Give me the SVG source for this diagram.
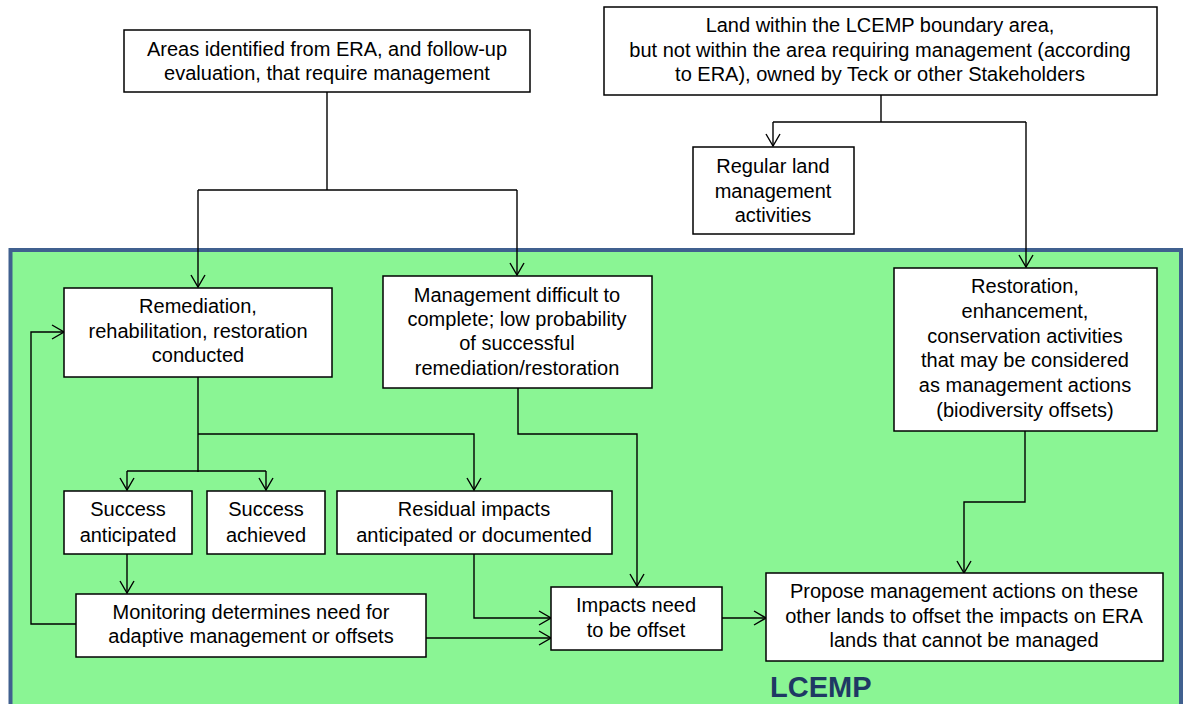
<svg xmlns="http://www.w3.org/2000/svg" width="1183" height="704" viewBox="0 0 1183 704">
<style>
.box{fill:#fff;stroke:#000;stroke-width:1.5}
.t{font-family:"Liberation Sans",Arial,sans-serif;font-size:20px;fill:#000;text-anchor:middle}
.c{fill:none;stroke:#000;stroke-width:1.4}
.lab{font-family:"Liberation Sans",Arial,sans-serif;font-size:29px;font-weight:bold;fill:#1f3864}
</style>
<defs>
<marker id="arr" viewBox="-13 -8 14 16" refX="0" refY="0" markerWidth="14" markerHeight="16" orient="auto" markerUnits="userSpaceOnUse">
<path d="M-12,-7 L0,0 L-12,7" fill="none" stroke="#000" stroke-width="1.4"/>
</marker>
</defs>
<rect width="1183" height="704" fill="#fff"/>
<g id="panel">
<rect x="10.5" y="250" width="1170.5" height="480" fill="#8af594" stroke="#40608f" stroke-width="4"/>
<text class="lab" x="770" y="697">LCEMP</text>
</g>
<g id="connectors">
<path class="c" d="M327,92 V190 M198,190 H517"/>
<path class="c" d="M198,190 V287" marker-end="url(#arr)"/>
<path class="c" d="M517,190 V275" marker-end="url(#arr)"/>
<path class="c" d="M881,95 V122 M773,122 H1026"/>
<path class="c" d="M773,122 V146" marker-end="url(#arr)"/>
<path class="c" d="M1026,122 V267" marker-end="url(#arr)"/>
<path class="c" d="M198,377 V472 M127,471 H266"/>
<path class="c" d="M198,434 H474 V490" marker-end="url(#arr)"/>
<path class="c" d="M127,471 V490" marker-end="url(#arr)"/>
<path class="c" d="M266,471 V490" marker-end="url(#arr)"/>
<path class="c" d="M127,554 V593" marker-end="url(#arr)"/>
<path class="c" d="M76,624 H31 V332 H64" marker-end="url(#arr)"/>
<path class="c" d="M474,554 V618 H551" marker-end="url(#arr)"/>
<path class="c" d="M426,638 H551" marker-end="url(#arr)"/>
<path class="c" d="M518,388 V434 H637 V586" marker-end="url(#arr)"/>
<path class="c" d="M722,618 H766" marker-end="url(#arr)"/>
<path class="c" d="M1025,431 V502 H964 V573" marker-end="url(#arr)"/>
</g>
<g id="areas">
<rect class="box" x="124" y="30" width="406" height="62"/>
<text class="t" x="327" y="56">Areas identified from ERA, and follow-up</text>
<text class="t" x="327" y="80">evaluation, that require management</text>
</g>
<g id="land">
<rect class="box" x="604" y="7" width="553" height="88"/>
<text class="t" x="880" y="32">Land within the LCEMP boundary area,</text>
<text class="t" x="880" y="57">but not within the area requiring management (according</text>
<text class="t" x="880" y="81">to ERA), owned by Teck or other Stakeholders</text>
</g>
<g id="regular">
<rect class="box" x="693" y="147" width="161" height="87"/>
<text class="t" x="773" y="173">Regular land</text>
<text class="t" x="773" y="198">management</text>
<text class="t" x="773" y="222">activities</text>
</g>
<g id="remediation">
<rect class="box" x="64" y="288" width="268" height="89"/>
<text class="t" x="198" y="313">Remediation,</text>
<text class="t" x="198" y="338">rehabilitation, restoration</text>
<text class="t" x="198" y="362">conducted</text>
</g>
<g id="difficult">
<rect class="box" x="383" y="276" width="269" height="112"/>
<text class="t" x="517" y="302">Management difficult to</text>
<text class="t" x="517" y="326">complete; low probability</text>
<text class="t" x="517" y="350">of successful</text>
<text class="t" x="517" y="375">remediation/restoration</text>
</g>
<g id="restoration">
<rect class="box" x="894" y="268" width="263" height="163"/>
<text class="t" x="1025" y="293">Restoration,</text>
<text class="t" x="1025" y="318">enhancement,</text>
<text class="t" x="1025" y="343">conservation activities</text>
<text class="t" x="1025" y="367">that may be considered</text>
<text class="t" x="1025" y="392">as management actions</text>
<text class="t" x="1025" y="417">(biodiversity offsets)</text>
</g>
<g id="success-anticipated">
<rect class="box" x="64" y="491" width="128" height="63"/>
<text class="t" x="128" y="516">Success</text>
<text class="t" x="128" y="542">anticipated</text>
</g>
<g id="success-achieved">
<rect class="box" x="207" y="491" width="118" height="63"/>
<text class="t" x="266" y="516">Success</text>
<text class="t" x="266" y="542">achieved</text>
</g>
<g id="residual">
<rect class="box" x="337" y="491" width="275" height="63"/>
<text class="t" x="474" y="516">Residual impacts</text>
<text class="t" x="474" y="542">anticipated or documented</text>
</g>
<g id="monitoring">
<rect class="box" x="76" y="594" width="350" height="63"/>
<text class="t" x="251" y="619">Monitoring determines need for</text>
<text class="t" x="251" y="643">adaptive management or offsets</text>
</g>
<g id="impacts">
<rect class="box" x="551" y="587" width="171" height="63"/>
<text class="t" x="636" y="612">Impacts need</text>
<text class="t" x="636" y="637">to be offset</text>
</g>
<g id="propose">
<rect class="box" x="766" y="573" width="397" height="88"/>
<text class="t" x="964" y="598">Propose management actions on these</text>
<text class="t" x="964" y="623">other lands to offset the impacts on ERA</text>
<text class="t" x="964" y="647">lands that cannot be managed</text>
</g>
</svg>
